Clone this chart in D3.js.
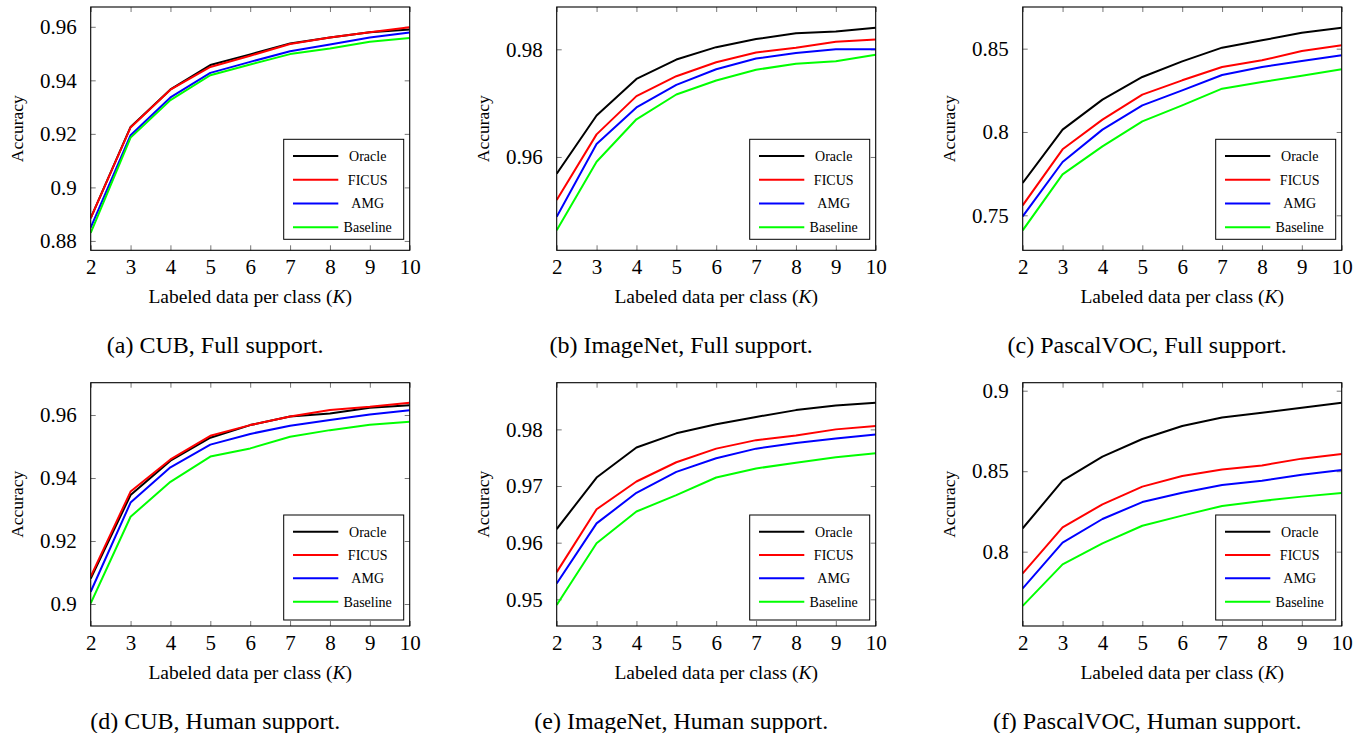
<!DOCTYPE html>
<html>
<head>
<meta charset="utf-8">
<script src="https://cdn.jsdelivr.net/npm/d3@7"></script>
<style>
  body { margin: 0; background: #fff; }
  svg text { font-family: "Liberation Serif", "Times New Roman", serif; fill: #000; }
</style>
</head>
<body>
<svg id="fig" width="1366" height="733"></svg>
<script>
// x values and series
var kValues = [2, 3, 4, 5, 6, 7, 8, 9, 10]
var seriesNames = ["Oracle", "FICUS", "AMG", "Baseline"]

// each panel: [Oracle, FICUS, AMG, Baseline]
var cubFull = [
  [0.8885, 0.9226, 0.9366, 0.9457, 0.9497, 0.9538, 0.9560, 0.9580, 0.9590],
  [0.8885, 0.9224, 0.9365, 0.9450, 0.9492, 0.9536, 0.9560, 0.9580, 0.9598],
  [0.8850, 0.9195, 0.9336, 0.9428, 0.9469, 0.9509, 0.9534, 0.9560, 0.9579],
  [0.8830, 0.9186, 0.9326, 0.9419, 0.9459, 0.9498, 0.9519, 0.9544, 0.9558]
]
var imagenetFull = [
  [0.9569, 0.9677, 0.9745, 0.9781, 0.9804, 0.9819, 0.9830, 0.9833, 0.9840],
  [0.9520, 0.9642, 0.9713, 0.9750, 0.9776, 0.9794, 0.9803, 0.9814, 0.9818],
  [0.9489, 0.9624, 0.9692, 0.9734, 0.9763, 0.9783, 0.9793, 0.9800, 0.9800],
  [0.9464, 0.9591, 0.9670, 0.9716, 0.9742, 0.9762, 0.9773, 0.9778, 0.9790]
]
var pascalFull = [
  [0.7694, 0.8014, 0.8194, 0.8330, 0.8424, 0.8506, 0.8550, 0.8596, 0.8626],
  [0.7560, 0.7896, 0.8074, 0.8224, 0.8310, 0.8390, 0.8430, 0.8486, 0.8520],
  [0.7494, 0.7820, 0.8014, 0.8160, 0.8250, 0.8342, 0.8390, 0.8426, 0.8460],
  [0.7410, 0.7746, 0.7914, 0.8064, 0.8160, 0.8260, 0.8300, 0.8338, 0.8376]
]
var cubHuman = [
  [0.9081, 0.9346, 0.9455, 0.9528, 0.9568, 0.9595, 0.9605, 0.9623, 0.9631],
  [0.9087, 0.9357, 0.9459, 0.9534, 0.9568, 0.9595, 0.9616, 0.9626, 0.9639],
  [0.9039, 0.9322, 0.9434, 0.9506, 0.9540, 0.9566, 0.9584, 0.9602, 0.9615],
  [0.9002, 0.9277, 0.9388, 0.9468, 0.9494, 0.9531, 0.9552, 0.9569, 0.9579]
]
var imagenetHuman = [
  [0.9624, 0.9715, 0.9768, 0.9793, 0.9809, 0.9822, 0.9834, 0.9842, 0.9847],
  [0.9548, 0.9659, 0.9708, 0.9742, 0.9766, 0.9781, 0.9789, 0.9800, 0.9806],
  [0.9528, 0.9634, 0.9688, 0.9725, 0.9749, 0.9766, 0.9776, 0.9784, 0.9791],
  [0.9490, 0.9599, 0.9655, 0.9684, 0.9715, 0.9731, 0.9741, 0.9751, 0.9758]
]
var pascalHuman = [
  [0.8145, 0.8441, 0.8590, 0.8700, 0.8781, 0.8834, 0.8863, 0.8894, 0.8925],
  [0.7865, 0.8151, 0.8294, 0.8404, 0.8470, 0.8511, 0.8536, 0.8578, 0.8607],
  [0.7772, 0.8056, 0.8203, 0.8308, 0.8366, 0.8414, 0.8441, 0.8478, 0.8507],
  [0.7663, 0.7921, 0.8052, 0.8161, 0.8224, 0.8284, 0.8315, 0.8342, 0.8364]
]

var panelData = [cubFull, imagenetFull, pascalFull, cubHuman, imagenetHuman, pascalHuman]
var captions = [
  "(a) CUB, Full support.", "(b) ImageNet, Full support.", "(c) PascalVOC, Full support.",
  "(d) CUB, Human support.", "(e) ImageNet, Human support.", "(f) PascalVOC, Human support."
]
// y axis range and tick values of each panel
var yDomains = [[0.8765, 0.9674], [0.94266, 0.98786], [0.729, 0.875],
                [0.89302, 0.97026], [0.94529, 0.98824], [0.75383, 0.90497]]
var yTicks = [[0.88, 0.9, 0.92, 0.94, 0.96], [0.96, 0.98], [0.75, 0.8, 0.85],
              [0.9, 0.92, 0.94, 0.96], [0.95, 0.96, 0.97, 0.98], [0.8, 0.85, 0.9]]

var colors = ["#000000", "#ff0000", "#0000ff", "#00ff00"]

// layout
var colLeft = [90.7, 556.7, 1022.7]
var rowTop = [7, 382.7]
var plotW = 319, plotH = 243.3
var legendTop = [139.3, 515], legendBottom = [239.3, 620]
var legendW = 120

var svg = d3.select('#fig')
var fmt = d3.format("~g")

panelData.forEach(function(series, i) {
  var col = i % 3, row = Math.floor(i / 3)
  var left = colLeft[col], top = rowTop[row]
  var g = svg.append("g").attr("transform", "translate(" + left + "," + top + ")")

  var x = d3.scaleLinear().domain([2, 10]).range([0, plotW])
  var y = d3.scaleLinear().domain(yDomains[i]).range([plotH, 0])

  // inward ticks on all four sides
  var tickLen = 5
  g.append("g").attr("transform", "translate(0," + plotH + ")")
    .call(d3.axisBottom(x).tickValues(kValues).tickSize(-tickLen).tickPadding(9).tickFormat(fmt))
  g.append("g").call(d3.axisTop(x).tickValues(kValues).tickSize(-tickLen).tickFormat(""))
  g.append("g").call(d3.axisLeft(y).tickValues(yTicks[i]).tickSize(-tickLen).tickPadding(14).tickFormat(fmt))
  g.append("g").attr("transform", "translate(" + plotW + ",0)")
    .call(d3.axisRight(y).tickValues(yTicks[i]).tickSize(-tickLen).tickFormat(""))
  g.selectAll(".domain").remove()
  g.selectAll(".tick line").attr("stroke", "#777").attr("stroke-width", 1)
  g.selectAll(".tick text").attr("font-size", 21).attr("font-family", "Liberation Serif")

  var clipId = "clip" + i
  g.append("clipPath").attr("id", clipId)
    .append("rect").attr("width", plotW).attr("height", plotH)

  var line = d3.line().x((d, j) => x(kValues[j])).y(d => y(d))
  g.append("g").attr("clip-path", "url(#" + clipId + ")")
    .selectAll("path")
    .data(series)
    .join("path")
    .attr("d", line)
    .attr("fill", "none")
    .attr("stroke", (d, j) => colors[j])
    .attr("stroke-width", 2)
    .attr("stroke-linejoin", "round")

  g.append("rect")
    .attr("width", plotW).attr("height", plotH)
    .attr("fill", "none").attr("stroke", "#000").attr("stroke-width", 1.1)

  // legend
  var lx = plotW - 6 - legendW
  var ly = legendTop[row] - top
  var lh = legendBottom[row] - legendTop[row]
  var leg = g.append("g").attr("transform", "translate(" + lx + "," + ly + ")")
  leg.append("rect").attr("width", legendW).attr("height", lh)
    .attr("fill", "#fff").attr("stroke", "#000").attr("stroke-width", 1)
  var step = (lh - 16.7 - (row == 0 ? 12 : 18.3)) / 3
  seriesNames.forEach(function(name, j) {
    var yy = 16.7 + j * step
    leg.append("line").attr("x1", 9.3).attr("x2", 54.6).attr("y1", yy).attr("y2", yy)
      .attr("stroke", colors[j]).attr("stroke-width", 2)
    leg.append("text").attr("x", 84).attr("y", yy).attr("dy", "0.35em")
      .attr("text-anchor", "middle").attr("font-size", 14).text(name)
  })

  // axis labels
  var xl = g.append("text").attr("x", plotW / 2).attr("y", plotH + 53)
    .attr("text-anchor", "middle").attr("font-size", 19.5)
  xl.append("tspan").text("Labeled data per class (")
  xl.append("tspan").attr("font-style", "italic").text("K")
  xl.append("tspan").text(")")

  g.append("text")
    .attr("transform", "translate(-74," + (plotH / 2) + ") rotate(-90)")
    .attr("text-anchor", "middle").attr("dy", "0.35em").attr("font-size", 17.5)
    .text("Accuracy")

  // caption
  g.append("text").attr("x", plotW / 2 - 35).attr("y", plotH + 103)
    .attr("text-anchor", "middle").attr("font-size", 24)
    .text(captions[i])
})
</script>
</body>
</html>
